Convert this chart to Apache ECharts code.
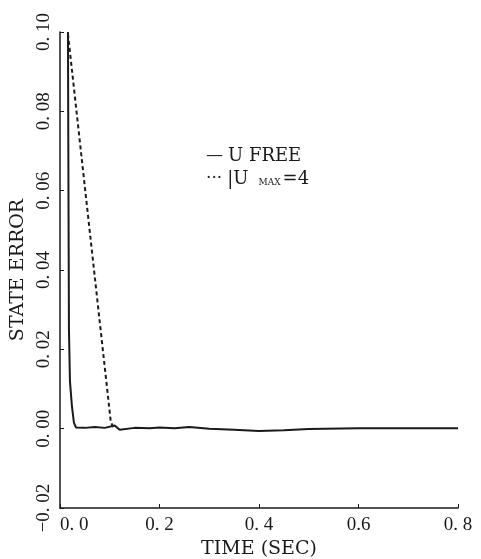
<!DOCTYPE html>
<html>
<head>
<meta charset="utf-8">
<script src="https://cdn.jsdelivr.net/npm/echarts@6/dist/echarts.min.js"></script>
<style>
  html, body { margin: 0; padding: 0; background: #fff; }
  #chart { width: 481px; height: 559px; }
</style>
</head>
<body>
<div id="chart"></div>
<script>
// U free response
const freeTime = [0.016, 0.017, 0.018, 0.020, 0.024, 0.028, 0.032, 0.05, 0.07, 0.09, 0.11, 0.12, 0.15, 0.18, 0.20, 0.23, 0.26, 0.30, 0.35, 0.40, 0.45, 0.50, 0.60, 0.70, 0.80];
const freeErr  = [0.100, 0.060, 0.025, 0.012, 0.0056, 0.0015, 0.0003, 0.0002, 0.0004, 0.0002, 0.0008, -0.0003, 0.0002, 0.0001, 0.0003, 0.0001, 0.0004, 0.0, -0.0003, -0.0006, -0.0004, -0.0001, 0.0001, 0.0001, 0.0001];

// |U| max = 4 response
const maxTime = [0.016, 0.102, 0.108];
const maxErr  = [0.0995, 0.0018, 0.0];

const yTickLabels = ['−0. 02', '0. 00', '0. 02', '0. 04', '0. 06', '0. 08', '0. 10'];
const xTickLabels = ['0. 0', '0. 2', '0. 4', '0.6', '0. 8'];

const numFont = 'Liberation Serif';
const txtFont = 'DejaVu Serif';
const ink = '#1a1a1a';

const chart = echarts.init(document.getElementById('chart'));

chart.setOption({
  animation: false,
  backgroundColor: '#fff',
  grid: { left: 60, right: 23, top: 32, bottom: 51, containLabel: false, outerBoundsMode: 'none' },
  legend: {
    orient: 'vertical',
    left: 196,
    top: 141,
    itemGap: 4,
    icon: 'none',
    itemWidth: 0,
    itemHeight: 20,
    data: ['U FREE', 'UMAX'],
    textStyle: {
      fontFamily: txtFont, fontSize: 17, color: ink,
      rich: {
        d: { fontFamily: txtFont, fontSize: 17, color: ink, padding: [0, 5, 0, 0] },
        s: { fontFamily: txtFont, fontSize: 9, color: ink, padding: [7, 2, 0, 10] },
        n: { fontFamily: txtFont, fontSize: 18, color: ink }
      }
    },
    formatter: function (name) {
      if (name === 'UMAX') return '{d|···}{n||U}{s|MAX}{n|=4}';
      return '{d|—}{n|' + name + '}';
    }
  },
  xAxis: {
    type: 'value',
    min: 0, max: 0.8, interval: 0.2,
    name: 'TIME (SEC)',
    nameLocation: 'middle',
    nameGap: 31,
    nameTextStyle: { fontFamily: txtFont, fontSize: 19, color: ink },
    axisLine: { onZero: false, lineStyle: { color: ink, width: 1.5 } },
    axisTick: { inside: true, length: 4, lineStyle: { color: ink } },
    splitLine: { show: false },
    axisLabel: {
      fontFamily: numFont, fontSize: 19, color: ink, margin: 8,
      alignMinLabel: 'left',
      formatter: function (v) { return xTickLabels[Math.round(v / 0.2)]; }
    }
  },
  yAxis: {
    type: 'value',
    min: -0.02, max: 0.10, interval: 0.02,
    name: 'STATE ERROR',
    nameLocation: 'middle',
    nameGap: 30,
    nameTextStyle: { fontFamily: txtFont, fontSize: 19, color: ink },
    axisLine: { show: true, onZero: false, lineStyle: { color: ink, width: 1.5 } },
    axisTick: { show: true, inside: true, length: 4, lineStyle: { color: ink } },
    splitLine: { show: false },
    axisLabel: {
      rotate: 90,
      fontFamily: numFont, fontSize: 19, color: ink, margin: 6,
      formatter: function (v) { return yTickLabels[Math.round((v + 0.02) / 0.02)]; }
    }
  },
  series: [
    {
      name: 'U FREE',
      type: 'line',
      symbol: 'none',
      smooth: false,
      lineStyle: { color: ink, width: 2 },
      itemStyle: { color: ink },
      data: freeTime.map((t, i) => [t, freeErr[i]])
    },
    {
      name: 'UMAX',
      type: 'line',
      symbol: 'none',
      lineStyle: { color: ink, width: 2, type: [4, 3] },
      itemStyle: { color: ink },
      data: maxTime.map((t, i) => [t, maxErr[i]])
    }
  ]
});
</script>
</body>
</html>
